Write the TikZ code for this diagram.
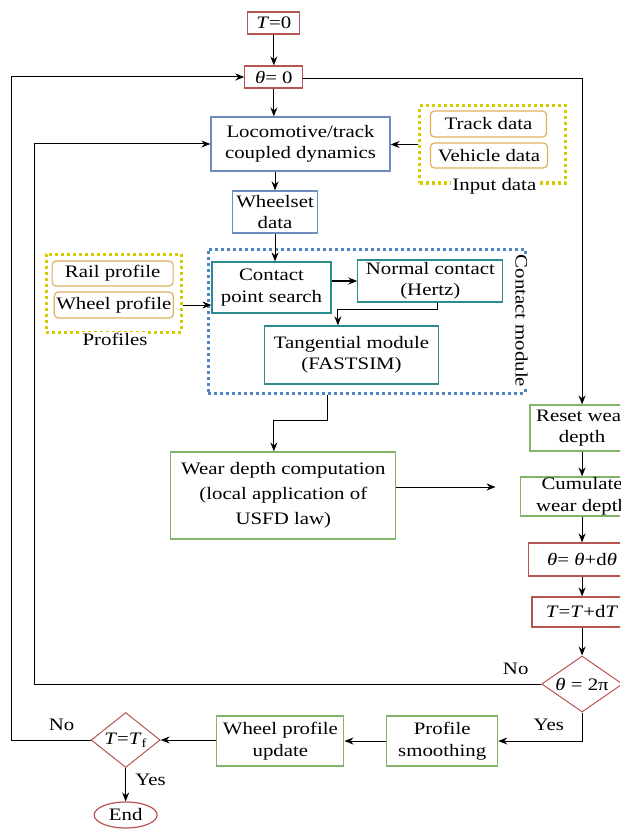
\documentclass[tikz,border=0pt]{standalone}
\usepackage{fontspec}
\setmainfont{Liberation Serif}[FakeStretch=1.19]
\usetikzlibrary{arrows.meta,shapes.geometric}
\definecolor{redline}{HTML}{B85450}
\definecolor{blueline}{HTML}{6C8EBF}
\definecolor{tealline}{HTML}{2A8C8C}
\definecolor{greenline}{HTML}{82B366}
\definecolor{orangeline}{HTML}{E0B060}
\definecolor{yellowdot}{HTML}{D4CC00}
\definecolor{bluedot}{HTML}{4D85C5}
\begin{document}
\begin{tikzpicture}[x=1.1855pt,y=-1pt,font=\fontsize{17.5}{21.5}\selectfont,
  >={Stealth[length=9pt,width=7pt,inset=3pt]}, line width=1pt]
  \tikzstyle{boite}=[draw, inner sep=0, align=center, line width=1.2pt];
  \tikzstyle{rouge}=[boite, draw=redline];
  \tikzstyle{bleu}=[boite, draw=blueline];
  \tikzstyle{sarcelle}=[boite, draw=tealline];
  \tikzstyle{vert}=[boite, draw=greenline];
  \tikzstyle{donnee}=[boite, draw=orangeline, rounded corners=4pt];
  \tikzstyle{cadrejaune}=[draw=yellowdot, line width=3pt, dash pattern=on 3pt off 3pt, inner sep=0];
  \tikzstyle{cadrebleu}=[draw=bluedot, line width=3pt, dash pattern=on 3pt off 3pt, inner sep=0];
  \tikzstyle{losange}=[boite, draw=redline, diamond, line width=1pt];
  \tikzstyle{legende}=[fill=white, inner sep=1pt];

  \useasboundingbox (0,0) rectangle (523,829);
  \clip (0,0) rectangle (523,829);

  % boites du haut
  \node[rouge, minimum width=52, minimum height=22] (T0) at (231,23) {\textit{T}=0};
  \node[rouge, minimum width=58, minimum height=22] (Th0) at (231,77) {\textit{θ}= 0};
  \node[bleu, minimum width=179, minimum height=54] (loco) at (253.5,144) {Locomotive/track\\coupled dynamics};
  \node[bleu, minimum width=85, minimum height=42] (wheelset) at (232,212) {Wheelset\\data};

  % donnees d'entree
  \node[cadrejaune, minimum width=146, minimum height=77] (input) at (415.5,144.5) {};
  \node[donnee, minimum width=116, minimum height=26] (track) at (412,124) {Track data};
  \node[donnee, minimum width=117, minimum height=25] (vehicle) at (412.5,155.5) {Vehicle data};
  \node[legende] (inputlbl) at (417,186) {Input data};

  % profils
  \node[cadrejaune, minimum width=135, minimum height=78] (prof) at (96,293) {};
  \node[donnee, minimum width=121, minimum height=25] (rail) at (95,273.5) {Rail profile};
  \node[donnee, minimum width=119, minimum height=26] (wheel) at (96,305) {Wheel profile};
  \node[legende] (proflbl) at (97,339) {Profiles};

  % module de contact
  \node[cadrebleu, minimum width=317, minimum height=144] (cmod) at (309.5,321) {};
  \node[sarcelle, minimum width=119, minimum height=51] (cps) at (229,287.5) {Contact\\point search};
  \node[sarcelle, minimum width=145, minimum height=42] (normal) at (363,281) {Normal contact\\(Hertz)};
  \node[sarcelle, minimum width=174, minimum height=58] (tang) at (296.5,355) {Tangential module\\(FASTSIM)};
  \node[legende, rotate=-90] (cmodlbl) at (440,321) {Contact module};

  % usure
  \node[vert, minimum width=225, minimum height=87, font=\fontsize{17.5}{25}\selectfont] (wear) at (239,495.5) {Wear depth computation\\(local application of\\USFD law)};
  \node[vert, minimum width=104, minimum height=46] (reset) at (491,428) {Reset wear\\depth};
  \node[vert, minimum width=123, minimum height=39] (cum) at (491,496.5) {Cumulate\\wear depth};
  \node[rouge, minimum width=107, minimum height=33] (dth) at (491,559.5) {\textit{θ}= \textit{θ}+d\textit{θ}};
  \node[rouge, minimum width=100, minimum height=30] (dT) at (491,612) {\textit{T}=\textit{T}+d\textit{T}};
  \node[losange, minimum width=81, minimum height=56, aspect=1.45] (d2pi) at (491,684) {\textit{θ} = 2π};

  % bas
  \node[vert, minimum width=111, minimum height=50] (smooth) at (373,741) {Profile\\smoothing};
  \node[vert, minimum width=127, minimum height=50] (update) at (236.5,741) {Wheel profile\\update};
  \node[losange, minimum width=69, minimum height=55, aspect=1.25] (dTf) at (106,740) {\textit{T}=\textit{T}\textsubscript{f}};
  \node[rouge, ellipse, minimum width=63, minimum height=26] (end) at (106,815) {End};

  \coordinate (nt) at (285,309);
  \coordinate (c1) at (276,420);
  \coordinate (wend) at (418,487);
  \coordinate (l1) at (10,400);
  \coordinate (l2) at (29,400);

  % fleches
  \draw[->] (T0) -- (Th0);
  \draw[->] (Th0) -- (Th0 |- loco.north);
  \draw[->] (loco.south -| wheelset) -- (wheelset);
  \draw[->] (input.west) -- (input.west -| loco.east);
  \draw[->] (wheelset) -- (wheelset |- cps.north);
  \draw[->] (wheel.east -| prof.east) -- (wheel.east -| cps.west);
  \draw[->, line width=1.5pt] (cps.east |- normal) -- (normal.west);
  \draw[->] ([xshift=7pt]normal.south) |- (nt) -- (nt |- tang.north);
  \draw[->] (c1 |- cmod.south) -- (c1) -| ([xshift=-9.5pt]wear.north);
  \draw[->] (wear.east |- wend) -- (wend);
  \draw[->] ([yshift=-2pt]Th0.east) -| (reset.north);
  \draw[->] (reset) -- (cum);
  \draw[->] (cum) -- (dth);
  \draw[->] (dth) -- (dT);
  \draw[->] (dT) -- (d2pi);
  \draw[->] (d2pi.west) -| (l2) |- (loco.west);
  \draw[->] (d2pi.south) |- (smooth.east);
  \draw[->] (smooth) -- (update);
  \draw[->] (update.west |- dTf) -- (dTf.east);
  \draw[->] (dTf.west) -| (l1) |- (Th0.west);
  \draw[->] (dTf) -- (end);

  % etiquettes
  \node (no1) at (435,669) {No};
  \node (yes1) at (463,725) {Yes};
  \node (no2) at (52,725) {No};
  \node (yes2) at (127,780) {Yes};
\end{tikzpicture}
\end{document}
